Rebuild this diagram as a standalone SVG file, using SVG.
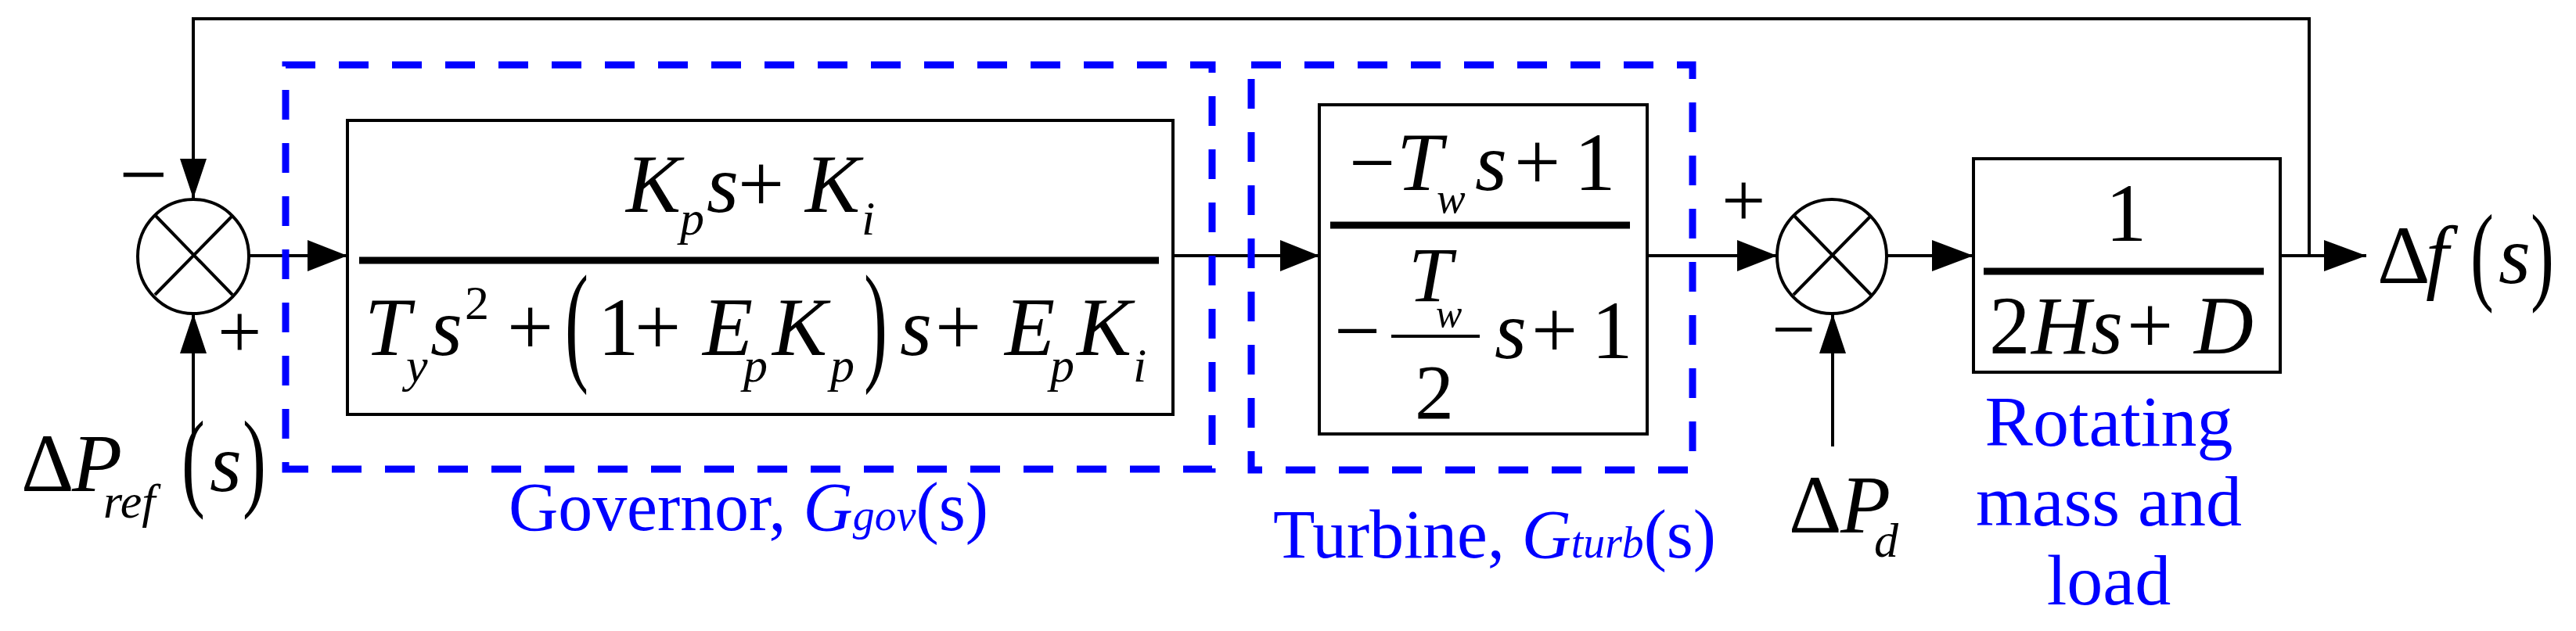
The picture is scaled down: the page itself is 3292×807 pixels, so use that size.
<svg xmlns="http://www.w3.org/2000/svg" width="3292" height="807" viewBox="0 0 3292 807">
<defs>
<style>
.ln{stroke:#000;stroke-width:4;fill:none}
.bx{stroke:#000;stroke-width:4;fill:#fff}
.dash{stroke:#0000ff;stroke-width:9;fill:none;stroke-dasharray:38 30}
.fl{stroke:#000;stroke-width:9}
text{font-family:"Liberation Serif",serif}
.m{font-style:italic;fill:#000;font-size:105px}
.r{font-style:normal;fill:#000;font-size:105px}
.sb{font-style:italic;fill:#000;font-size:62px}
.lb{fill:#0000ff;font-size:88px}
</style>
</defs>
<g id="connectors">
<path class="ln" d="M1499,327H1686"/>
<path class="ln" d="M2105,327H2271"/>
<path class="ln" d="M2411,327H2522"/>
<path class="ln" d="M2914,327H3024"/>
<path class="ln" d="M2951,327V24H247V254"/>
<path class="ln" d="M318,327H444"/>
<path class="ln" d="M247,560V401"/>
<path class="ln" d="M2342,571V401"/>
<path d="M393,307L444,327L393,347z"/>
<path d="M1636,307L1686,327L1636,347z"/>
<path d="M2220,307L2271,327L2220,347z"/>
<path d="M2469,307L2522,327L2469,347z"/>
<path d="M2970,307L3024,327L2970,347z"/>
<path d="M230,203L247,254L264,203z"/>
<path d="M230,452L247,401L264,452z"/>
<path d="M2325,452L2342,401L2359,452z"/>
</g>
<g id="sum1">
<ellipse cx="247" cy="328" rx="71" ry="73" class="ln" fill="#fff"/>
<path class="ln" d="M198,275L297,377M296,277L198,377"/>
<text class="r" x="152" y="260" font-size="110" style="font-size:110px">−</text>
<text class="r" x="278" y="458" style="font-size:100px">+</text>
</g>
<g id="governor-box">
<rect x="365" y="83" width="1184" height="517" class="dash"/>
<rect x="444" y="154" width="1055" height="376" class="bx"/>
<line x1="459" y1="333" x2="1481" y2="333" class="fl"/>
<text class="m" x="800" y="271">K</text><text class="sb" x="869" y="300">p</text>
<text class="m" x="903" y="271">s</text><text class="r" x="943" y="271">+</text>
<text class="m" x="1029" y="271">K</text><text class="sb" x="1101" y="300">i</text>
<text class="m" x="466" y="454">T</text><text class="sb" x="519" y="488">y</text>
<text class="m" x="550" y="454">s</text><text class="r" x="594" y="408" style="font-size:62px">2</text>
<text class="r" x="648" y="454">+</text>
<text class="r" transform="translate(722,469) scale(0.9,1.7)" style="font-size:100px">(</text>
<text class="r" x="764" y="454">1</text><text class="r" x="811" y="454">+</text>
<text class="m" x="898" y="454">E</text><text class="sb" x="950" y="488">p</text>
<text class="m" x="987" y="454">K</text><text class="sb" x="1061" y="488">p</text>
<text class="r" transform="translate(1104,469) scale(0.9,1.7)" style="font-size:100px">)</text>
<text class="m" x="1150" y="454">s</text><text class="r" x="1195" y="454">+</text>
<text class="m" x="1284" y="454">E</text><text class="sb" x="1342" y="488">p</text>
<text class="m" x="1376" y="454">K</text><text class="sb" x="1448" y="488">i</text>
<text class="lb" x="650" y="678" textLength="613" lengthAdjust="spacingAndGlyphs">Governor, <tspan font-style="italic">G<tspan font-size="56">gov</tspan></tspan>(s)</text>
</g>
<g id="turbine-box">
<rect x="1599" y="83" width="564" height="518" class="dash"/>
<rect x="1686" y="134" width="419" height="421" class="bx"/>
<line x1="1700" y1="288" x2="2083" y2="288" class="fl"/>
<text class="r" x="1724" y="243">−</text><text class="m" x="1785" y="243">T</text>
<text class="sb" x="1836" y="272" style="font-size:55px">w</text>
<text class="m" x="1885" y="243">s</text><text class="r" x="1935" y="243">+</text><text class="r" x="2012" y="243">1</text>
<text class="r" x="1705" y="458">−</text>
<line x1="1778" y1="430" x2="1891" y2="430" stroke="#000" stroke-width="4"/>
<text class="m" x="1800" y="385" style="font-size:100px">T</text>
<text class="sb" x="1835" y="418" style="font-size:50px">w</text>
<text class="r" x="1808" y="535" style="font-size:100px">2</text>
<text class="m" x="1910" y="458">s</text><text class="r" x="1957" y="458">+</text><text class="r" x="2034" y="458">1</text>
<text class="lb" x="1627" y="713" textLength="566" lengthAdjust="spacingAndGlyphs">Turbine, <tspan font-style="italic">G<tspan font-size="56">turb</tspan></tspan>(s)</text>
</g>
<g id="sum2">
<ellipse cx="2341" cy="328" rx="70" ry="73" class="ln" fill="#fff"/>
<path class="ln" d="M2292,275L2391,377M2390,277L2292,377"/>
<text class="r" x="2200" y="290" style="font-size:100px">+</text>
<text class="r" x="2264" y="455" style="font-size:100px">−</text>
</g>
<g id="load-box">
<rect x="2522" y="203" width="392" height="273" class="bx"/>
<line x1="2535" y1="347" x2="2893" y2="347" class="fl"/>
<text class="r" x="2717" y="308" text-anchor="middle">1</text>
<text class="r" x="2542" y="452">2</text><text class="m" x="2596" y="452">H</text><text class="m" x="2672" y="452">s</text>
<text class="r" x="2718" y="452">+</text><text class="m" x="2804" y="452">D</text>
<text class="lb" x="2695" y="570" text-anchor="middle" style="font-size:92px">Rotating</text>
<text class="lb" x="2695" y="672" text-anchor="middle" style="font-size:92px">mass and</text>
<text class="lb" x="2695" y="773" text-anchor="middle" style="font-size:92px">load</text>
</g>
<g id="labels">
<text class="r" x="27" y="628">Δ</text><text class="m" x="92" y="628">P</text><text class="sb" x="132" y="662">ref</text>
<text class="r" transform="translate(232,635) scale(0.9,1.4)" style="font-size:100px">(</text>
<text class="m" x="268" y="628">s</text>
<text class="r" transform="translate(310,635) scale(0.9,1.4)" style="font-size:100px">)</text>
<text class="r" x="2286" y="681">Δ</text><text class="m" x="2352" y="681">P</text><text class="sb" x="2395" y="712">d</text>
<text class="r" x="3038" y="362">Δ</text><text class="m" x="3100" y="362">f</text>
<text class="r" transform="translate(3157,371) scale(0.9,1.4)" style="font-size:100px">(</text>
<text class="m" x="3193" y="362">s</text>
<text class="r" transform="translate(3234,371) scale(0.9,1.4)" style="font-size:100px">)</text>
</g>
</svg>
